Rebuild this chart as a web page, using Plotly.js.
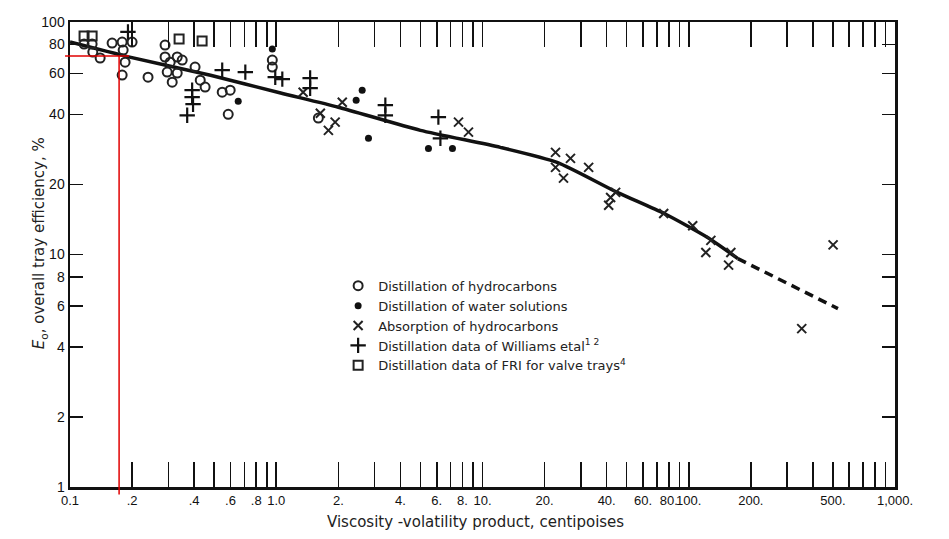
<!DOCTYPE html>
<html><head><meta charset="utf-8">
<script src="https://cdn.plot.ly/plotly-3.0.1.min.js"></script>
<style>html,body{margin:0;padding:0;background:#fff}#chart{width:949px;height:539px}</style>
</head><body><div id="chart"></div>
<script>
// ---- Data ----
const curveX = [0.1, 0.19, 0.48, 1.05, 2.0, 5.0, 12.2, 23, 45, 76, 124, 173];
const curveY = [82, 71, 59, 49.5, 43, 34.2, 28.9, 24.9, 18.5, 15.0, 11.8, 9.6];
const dashX = [173, 529];
const dashY = [9.6, 5.85];

const hcX = [0.117,0.128,0.129,0.14,0.16,0.179,0.181,0.2,0.185,0.179,0.239,0.289,0.289,0.306,0.331,0.35,0.296,0.331,0.313,0.404,0.428,0.452,0.547,0.598,0.585,0.957,0.957,1.60];
const hcY = [80.4,80.4,74.3,70.0,81.2,82,75.7,82,67.2,59.1,57.9,79.6,70.7,67.2,70.7,68.6,60.9,60.3,55.1,64.0,56.2,52.5,49.9,50.9,40.1,68.6,64.0,38.6];

const waterX = [0.143,0.654,0.957,2.61,2.44,2.80,5.47,7.15];
const waterY = [107,45.6,76.5,50.9,46.1,31.6,28.6,28.6];

const absX = [1.35,1.636,1.79,1.93,2.09,7.65,8.55,22.6,22.6,24.7,26.7,32.7,41.8,44.2,40.9,75.6,104.5,128,121,160,156,501,353];
const absY = [49.9,40.5,34.2,37.1,45.2,37.1,33.6,27.5,23.7,21.3,25.9,23.7,17.6,18.5,16.3,15.0,13.3,11.5,10.2,10.2,9.0,11.0,4.8];

const wilX = [0.191,0.391,0.391,0.395,0.37,0.547,0.708,0.989,1.07,1.46,1.46,3.38,3.38,6.11,6.25];
const wilY = [90.6,50.9,47.5,44.3,39.7,62.1,60.9,57.9,56.8,57.4,51.9,43.9,39.7,39.0,31.6];

const friX = [0.117,0.128,0.338,0.437];
const friY = [87,87,84.5,82.8];

const seriesNames = [
  'Distillation of hydrocarbons',
  'Distillation of water solutions',
  'Absorption of hydrocarbons',
  'Distillation data of Williams etal<sup>1 2</sup>',
  'Distillation data of FRI for valve trays<sup>4</sup>'
];

const xLabelVals = [0.1,0.2,0.4,0.6,0.8,1,2,4,6,8,10,20,40,60,80,100,200,500,1000];
const xLabelText = ['0.1','.2','.4','.6','.8','1.0','2.','4.','6.','8.','10.','20.','40.','60.','80.','100.','200.','500.','1,000.'];
const yTickVals = [1,2,4,6,8,10,20,40,60,80,100];
const yTickText = ['1','2','4','6','8','10','20','40','60','80','100'];

const markX = 0.173;   // red reading line
const markY = 71.4;

const xTitle = 'Viscosity -volatility product, centipoises';
const yTitle = '<i>E</i><sub>o</sub>, overall tray efficiency, %';

// ---- Build ----
const xRange = [-1, 3], yRange = [0, 2];
const minorXTicks = [];
for (let e = -1; e <= 2; e++) for (let k = 1; k <= 9; k++) minorXTicks.push(+(k * Math.pow(10, e)).toPrecision(3));
minorXTicks.push(1000);

const font = 'Liberation Sans, Arial, sans-serif';
const wide = 'DejaVu Sans, Liberation Sans, sans-serif';
const traces = [
  {x: curveX, y: curveY, mode: 'lines', line: {color: '#111', width: 3.5, shape: 'spline', smoothing: 0.6}, showlegend: false, hoverinfo: 'skip'},
  {x: dashX, y: dashY, mode: 'lines', line: {color: '#111', width: 3.5, dash: '9px,6px'}, showlegend: false, hoverinfo: 'skip'},
  {x: hcX, y: hcY, mode: 'markers', name: seriesNames[0], marker: {symbol: 'circle-open', size: 9, color: '#222', line: {width: 2, color: '#222'}}, cliponaxis: false},
  {x: waterX, y: waterY, mode: 'markers', name: seriesNames[1], marker: {symbol: 'circle', size: 7, color: '#111'}, cliponaxis: false},
  {x: absX, y: absY, mode: 'markers', name: seriesNames[2], marker: {symbol: 'x-thin-open', size: 9, color: '#222', line: {width: 2, color: '#222'}}, cliponaxis: false},
  {x: wilX, y: wilY, mode: 'markers', name: seriesNames[3], marker: {symbol: 'cross-thin-open', size: 11, color: '#111', line: {width: 2.2, color: '#111'}}, cliponaxis: false},
  {x: friX, y: friY, mode: 'markers', name: seriesNames[4], marker: {symbol: 'square-open', size: 9, color: '#222', line: {width: 2, color: '#222'}}, cliponaxis: false}
];

const px = v => (Math.log10(v) - xRange[0]) / (xRange[1] - xRange[0]);
const py = v => (Math.log10(v) - yRange[0]) / (yRange[1] - yRange[0]);

const layout = {
  width: 949, height: 539,
  margin: {l: 70, r: 54, t: 22, b: 52},
  paper_bgcolor: '#fff', plot_bgcolor: '#fff',
  font: {family: font, color: '#111', size: 12},
  showlegend: true,
  legend: {x: 0.325, y: 0.465, xanchor: 'left', yanchor: 'top', bgcolor: 'rgba(0,0,0,0)',
           font: {family: wide, size: 13, color: '#222'}, itemwidth: 30, tracegroupgap: 0},
  xaxis: {type: 'log', range: xRange, tickmode: 'array', tickvals: xLabelVals, ticktext: xLabelText, tickangle: 0,
          ticks: 'inside', ticklen: 25, tickwidth: 1.6, tickcolor: '#111',
          minor: {tickmode: 'array', tickvals: minorXTicks, ticks: 'inside', ticklen: 25, tickwidth: 1.6, tickcolor: '#111', showgrid: false},
          showline: true, linewidth: 2.5, linecolor: '#111', mirror: 'ticks',
          showgrid: false, zeroline: false, tickfont: {family: font, size: 13, color: '#111'}},
  yaxis: {type: 'log', range: yRange, tickmode: 'array', tickvals: yTickVals, ticktext: yTickText, ticks: 'inside', ticklen: 13,
          tickwidth: 1.6, tickcolor: '#111', showline: true, linewidth: 2.5, linecolor: '#111', mirror: 'ticks',
          showgrid: false, zeroline: false, tickfont: {family: font, size: 14, color: '#111'}},
  shapes: [
    {type: 'line', xref: 'paper', yref: 'paper', x0: -0.006, x1: px(markX) + 0.012, y0: py(markY), y1: py(markY), line: {color: '#e00000', width: 1.5}, layer: 'above'},
    {type: 'line', xref: 'paper', yref: 'paper', x0: px(markX), x1: px(markX), y0: py(markY), y1: -0.016, line: {color: '#e00000', width: 1.5}, layer: 'above'}
  ],
  annotations: [
    {text: xTitle, xref: 'paper', yref: 'paper', x: 0.491, y: -0.075, showarrow: false, xanchor: 'center', yanchor: 'middle', font: {family: wide, size: 15, color: '#222'}},
    {text: yTitle, xref: 'paper', yref: 'paper', x: -0.036, y: 0.525, showarrow: false, textangle: -90, xanchor: 'center', yanchor: 'middle', font: {family: wide, size: 15, color: '#222'}}
  ]
};

Plotly.newPlot('chart', traces, layout, {staticPlot: true, displayModeBar: false});
</script></body></html>
